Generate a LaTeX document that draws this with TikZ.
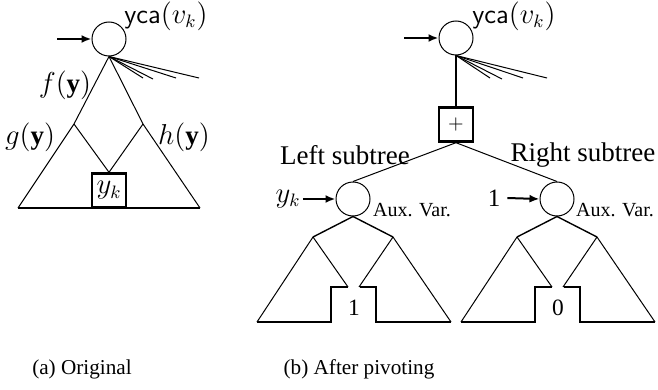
\documentclass[tikz,border=0pt]{standalone}
\usepackage{amsmath}
\usepackage{fontspec}
\setmainfont{Liberation Serif}
\usetikzlibrary{arrows.meta,positioning,calc}

\tikzset{
  gate/.style={draw, circle, minimum size=17pt, inner sep=0pt},
  leafbox/.style={draw, line width=1.2pt, minimum width=17pt, minimum height=17pt, inner sep=0pt},
  feed/.style={line width=1pt, -{Latex[length=5pt,width=4pt]}},
  baseline/.style={line width=1.2pt},
  lbl/.style={font=\fontsize{13.5}{16}\selectfont},
  small/.style={font=\fontsize{10}{12}\selectfont},
}

\begin{document}
\begin{tikzpicture}[x=0.5pt, y=-0.5pt, line width=0.5pt]
  \useasboundingbox (0,0) rectangle (658,390);

  % (a) Original
  \node[gate] (topa) at (109,39) {};
  \coordinate (ina) at (57,39);
  \draw[feed] (ina) -- (topa);
  \node[lbl] (ycaa) at (166,16) {\textsf{yca}$(v_k)$};
  \foreach \x/\y [count=\i] in {143/78, 153/79, 176/78, 199/78} {
    \coordinate (fana\i) at (\x,\y);
    \draw (topa.south) -- (fana\i);
  }
  \coordinate (la) at (74,124);
  \coordinate (ra) at (143,124);
  \coordinate (bla) at (18,208);
  \coordinate (bra) at (200,208);
  \node[leafbox] (yk) at (109,190.5) {\fontsize{13.5}{16}\selectfont $y_k$};
  \draw (topa.south) -- (la) -- (bla);
  \draw (topa.south) -- (ra) -- (bra);
  \draw (la) -- (yk.north) -- (ra);
  \draw[baseline] (bla) -- (bra);
  \node[lbl] (fy) at (65,85) {$f(\mathbf{y})$};
  \node[lbl] (gy) at (30,137) {$g(\mathbf{y})$};
  \node[lbl] (hy) at (184,137) {$h(\mathbf{y})$};

  % (b) After pivoting
  \node[gate] (topb) at (456,38) {};
  \coordinate (inb) at (404,38);
  \draw[feed] (inb) -- (topb);
  \node[lbl] (ycab) at (514,16) {\textsf{yca}$(v_k)$};
  \foreach \x/\y [count=\i] in {490/78, 502/79, 523/78, 547/78} {
    \coordinate (fanb\i) at (\x,\y);
    \draw (topb.south) -- (fanb\i);
  }
  \node[leafbox] (plus) at (456,124.5) {$+$};
  \draw[line width=1.2pt] (topb) -- (plus);

  \node[gate] (auxl) at (353,199) {};
  \node[gate] (auxr) at (557,199) {};
  \draw (plus.south) -- (auxl.north);
  \draw (plus.south) -- (auxr.north);
  \node[lbl] (lsub) at (345,155) {Left subtree};
  \node[lbl] (rsub) at (583,155) {Right subtree};

  \node[lbl, inner sep=1pt] (ykin) at (288,199) {$y_k$};
  \draw[feed] (ykin.east) -- (auxl.west);
  \node[font=\fontsize{12.5}{14}\selectfont] (onein) at (494,198) {1};
  \draw[feed] (onein.east) -- (auxr.west);
  \node[small] (auxvl) at (412,210) {Aux. Var.};
  \node[small] (auxvr) at (615,210) {Aux. Var.};

  % subtrees below the auxiliary variables
  \foreach \nd/\val in {auxl/1, auxr/0} {
    \begin{scope}[shift={(\nd.center)}]
      \coordinate (bl) at (-40,38);
      \coordinate (br) at (40,38);
      \draw[line width=0.7pt] (\nd.south) -- (bl);
      \draw[line width=0.7pt] (\nd.south) -- (br);
      \draw (bl) -- (-96,123);
      \draw (br) -- (98,123);
      \draw (bl) -- (-5,88);
      \draw (br) -- (6,88);
      \draw[baseline] (-96,123) -- (-22,123) -- (-22,88) -- (-5,88);
      \draw[baseline] (7,88) -- (23,88) -- (23,123) -- (98,123);
      \node[font=\fontsize{11.7}{14}\selectfont] (leaf\nd) at (1,109) {\val};
    \end{scope}
  }

  % captions
  \node[font=\fontsize{10.6}{12}\selectfont] (capa) at (82,369) {(a) Original};
  \node[font=\fontsize{10.6}{12}\selectfont] (capb) at (359,369) {(b) After pivoting};
\end{tikzpicture}
\end{document}
